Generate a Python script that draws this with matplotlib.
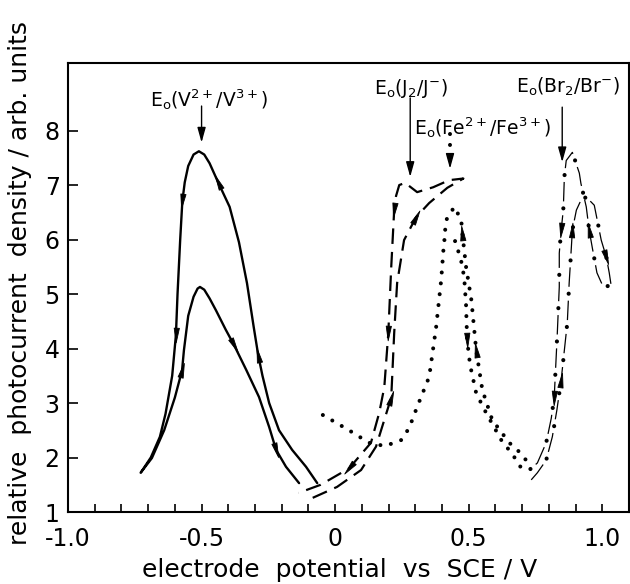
import numpy as np
import matplotlib
matplotlib.use("Agg")
import matplotlib.pyplot as plt
from matplotlib.markers import MarkerStyle
from matplotlib.path import Path

plt.rcParams['font.family'] = ['DejaVu Sans']
plt.rcParams['mathtext.fontset'] = 'dejavusans'

# ---------------- data (potential V vs SCE, relative photocurrent) ----------------
# V2+/V3+ (solid): scan order
v_x = [-0.067, -0.109, -0.161, -0.21, -0.247, -0.272, -0.288, -0.305, -0.33, -0.36, -0.395, -0.438,
       -0.47, -0.49, -0.51, -0.53, -0.55, -0.563, -0.572, -0.58, -0.59, -0.596, -0.61, -0.635,
       -0.656, -0.69, -0.728,
       -0.686, -0.64, -0.60, -0.573, -0.566, -0.55, -0.53, -0.515, -0.506, -0.49, -0.47, -0.446,
       -0.41, -0.378, -0.333, -0.285, -0.247, -0.221, -0.184, -0.135]
v_y = [1.53, 1.83, 2.14, 2.5, 3.0, 3.5, 3.88, 4.4, 5.2, 5.95, 6.6, 7.05,
       7.4, 7.56, 7.62, 7.56, 7.35, 7.05, 6.7, 6.0, 5.0, 4.25, 3.5, 2.8,
       2.38, 2.0, 1.72,
       1.99, 2.5, 3.1, 3.6, 3.97, 4.6, 4.95, 5.1, 5.13, 5.08, 4.92, 4.7,
       4.35, 4.06, 3.61, 3.11, 2.56, 2.14, 1.83, 1.53]
v_arrows = [(-0.438, 7.05), (-0.288, 3.88), (-0.572, 6.7), (-0.596, 4.25),
            (-0.573, 3.6), (-0.378, 4.06), (-0.221, 2.14)]

# J2/J- (dashed)
j_x = [-0.084, 0.007, 0.097, 0.153, 0.184, 0.21, 0.221, 0.232, 0.258, 0.303, 0.352, 0.42, 0.48,
       0.427, 0.367, 0.307, 0.262, 0.24, 0.228, 0.221, 0.21, 0.199, 0.184, 0.165, 0.134, 0.052,
       -0.054, -0.137]
j_y = [1.26, 1.46, 1.77, 2.2, 2.69, 3.1, 4.28, 5.2, 5.99, 6.41, 6.67, 6.95, 7.12,
       7.09, 6.96, 6.87, 7.04, 7.0, 6.8, 6.54, 5.5, 4.28, 3.29, 2.82, 2.27, 1.8,
       1.5, 1.35]
j_arrows = [(0.303, 6.41), (0.21, 3.1), (0.221, 6.54), (0.199, 4.28), (0.052, 1.8)]

# Fe2+/Fe3+ (dotted)
fe_x = [-0.046, 0.052, 0.127, 0.187, 0.247, 0.277, 0.307, 0.352, 0.378, 0.397, 0.408, 0.43, 0.45,
        0.472, 0.483, 0.49, 0.494, 0.505, 0.528, 0.565, 0.622, 0.665, 0.695, 0.715,
        0.69, 0.652, 0.588, 0.551, 0.528, 0.51, 0.49, 0.476, 0.472, 0.446, 0.416, 0.408]
fe_y = [2.78, 2.5, 2.27, 2.21, 2.32, 2.54, 2.93, 3.48, 4.39, 5.26, 5.99, 6.0, 5.97,
        5.6, 5.31, 4.8, 4.16, 3.7, 3.18, 2.82, 2.32, 2.05, 1.82, 1.95,
        2.1, 2.27, 2.69, 3.24, 3.97, 4.89, 5.5, 6.12, 6.36, 6.6, 6.36, 6.0]
fe_arrows = [(0.494, 4.16), (0.528, 3.97), (0.476, 6.12)]

# Br2/Br- (dash-dot)
br_x = [0.734, 0.757, 0.79, 0.813, 0.83, 0.846, 0.869, 0.876, 0.884, 0.888, 0.903, 0.92, 0.94,
        0.97, 0.996, 1.015, 1.026, 1.034, 1.0, 0.98, 0.963, 0.951, 0.94, 0.92, 0.914, 0.888,
        0.865, 0.858, 0.854, 0.846, 0.839, 0.839, 0.831, 0.82, 0.809, 0.79, 0.757, 0.715]
br_y = [1.59, 1.72, 1.95, 2.38, 2.87, 3.42, 4.47, 5.2, 5.84, 6.17, 6.54, 6.72, 6.78,
        6.63, 5.99, 5.68, 5.39, 5.13, 5.17, 5.39, 5.84, 6.17, 6.6, 7.03, 7.22, 7.6,
        7.45, 7.15, 6.54, 6.17, 5.75, 5.13, 4.21, 3.1, 2.72, 2.27, 1.9, 1.72]
br_arrows = [(0.846, 3.42), (0.888, 6.17), (1.015, 5.68), (0.951, 6.17), (0.846, 6.17), (0.82, 3.1)]

x_ticks = [-1.0, -0.9, -0.8, -0.7, -0.6, -0.5, -0.4, -0.3, -0.2, -0.1, 0.0,
           0.1, 0.2, 0.3, 0.4, 0.5, 0.6, 0.7, 0.8, 0.9, 1.0]
x_tick_labels = ['-1.0', '', '', '', '', '-0.5', '', '', '', '', '0',
                 '', '', '', '', '0.5', '', '', '', '', '1.0']
y_ticks = [1, 2, 3, 4, 5, 6, 7, 8]
y_tick_labels = ['1', '2', '3', '4', '5', '6', '7', '8']

# E0 annotations: label, text position, arrow x, arrow start y, arrow tip y
e0_labels = [r'E$_{\mathrm{o}}$(V$^{2+}$/V$^{3+}$)', r'E$_{\mathrm{o}}$(J$_2$/J$^{-}$)',
             r'E$_{\mathrm{o}}$(Fe$^{2+}$/Fe$^{3+}$)', r'E$_{\mathrm{o}}$(Br$_2$/Br$^{-}$)']
e0_text_x = [-0.472, 0.285, 0.552, 0.873]
e0_text_y = [8.56, 8.78, 8.06, 8.8]
e0_arrow_x = [-0.5, 0.281, 0.43, 0.85]
e0_arrow_y0 = [8.45, 8.6, 7.93, 8.43]
e0_arrow_y1 = [7.78, 7.15, 7.3, 7.42]

# ---------------- figure ----------------
fig = plt.figure(figsize=(6.3, 5.84), dpi=100)
ax = fig.add_axes([68 / 630, 72 / 584, 561 / 630, 449 / 584])
ax.set_xlim(-1.0, 1.1)
ax.set_ylim(1.0, 9.24)

dot_lw = 2.9
dot_style = (0, (0.01, 2.7))

ax.plot(v_x, v_y, color='k', lw=1.7, solid_joinstyle='round', solid_capstyle='round')
ax.plot(j_x, j_y, color='k', lw=1.6, linestyle=(0, (7.0, 3.6)), dash_capstyle='butt')
ax.plot(fe_x, fe_y, color='k', lw=dot_lw, linestyle=dot_style, dash_capstyle='round')
# dash-dot: thin long dashes plus bold dots in the gaps (lengths in points)
thin_lw, bold_lw = 0.9, 3.0
dash_len, gap_len = 14.0, 10.0
period = dash_len + gap_len
ax.plot(br_x, br_y, color='k', lw=thin_lw,
        linestyle=(0, (dash_len / thin_lw, gap_len / thin_lw)), dash_capstyle='butt')
ax.plot(br_x, br_y, color='k', lw=bold_lw,
        linestyle=((period - dash_len - gap_len / 2) / bold_lw, (0.01, period / bold_lw - 0.01)),
        dash_capstyle='round')

tri = Path([(0, 1.0), (-0.36, -1.0), (0.36, -1.0), (0, 1.0)],
           [Path.MOVETO, Path.LINETO, Path.LINETO, Path.CLOSEPOLY])


def add_arrows(xs, ys, pts, size=10.5):
    T = ax.transData
    P = T.transform(np.column_stack([xs, ys]))
    for (px, py) in pts:
        q = T.transform((px, py))
        best, bi = 1e9, 0
        for i in range(len(P) - 1):
            a, b = P[i], P[i + 1]
            ab = b - a
            t = np.clip(np.dot(q - a, ab) / max(np.dot(ab, ab), 1e-9), 0, 1)
            d = np.linalg.norm(a + t * ab - q)
            if d < best:
                best, bi = d, i
        v = P[bi + 1] - P[bi]
        ang = np.degrees(np.arctan2(v[1], v[0])) - 90
        m = MarkerStyle(tri).rotated(deg=ang)
        ax.plot([px], [py], marker=m, ms=size, color='k', mec='k', mew=0.6, linestyle='none')


add_arrows(v_x, v_y, v_arrows)
add_arrows(j_x, j_y, j_arrows)
add_arrows(fe_x, fe_y, fe_arrows)
add_arrows(br_x, br_y, br_arrows)

for i, lab in enumerate(e0_labels):
    ax.text(e0_text_x[i], e0_text_y[i], lab, fontsize=13.5, ha='center', va='center')
    if i == 2:
        ax.plot([e0_arrow_x[i], e0_arrow_x[i]], [e0_arrow_y0[i], e0_arrow_y1[i] + 0.2],
                color='k', lw=dot_lw, linestyle=dot_style, dash_capstyle='round')
        ax.annotate('', xy=(e0_arrow_x[i], e0_arrow_y1[i]),
                    xytext=(e0_arrow_x[i], e0_arrow_y1[i] + 0.25),
                    arrowprops=dict(arrowstyle='-|>,head_length=0.9,head_width=0.25',
                                    lw=1.0, color='k', shrinkA=0, shrinkB=0))
    else:
        ax.annotate('', xy=(e0_arrow_x[i], e0_arrow_y1[i]),
                    xytext=(e0_arrow_x[i], e0_arrow_y0[i]),
                    arrowprops=dict(arrowstyle='-|>,head_length=0.9,head_width=0.25',
                                    lw=1.0, color='k', shrinkA=0, shrinkB=0))

ax.set_xticks(x_ticks)
ax.set_xticklabels(x_tick_labels)
ax.set_yticks(y_ticks)
ax.set_yticklabels(y_tick_labels)
ax.tick_params(axis='x', direction='in', length=6, width=1.2, labelsize=17, pad=11)
ax.tick_params(axis='y', direction='in', length=7, width=1.2, labelsize=17, pad=6)
for s in ax.spines.values():
    s.set_linewidth(1.5)

ax.set_xlabel('electrode  potential  vs  SCE / V', fontsize=18)
ax.xaxis.set_label_coords(0.485, -0.13)
ax.xaxis.label.set_verticalalignment('center')
ax.set_ylabel('relative  photocurrent  density / arb. units', fontsize=18)
ax.yaxis.set_label_coords(-0.085, 0.51)
ax.yaxis.label.set_verticalalignment('center')

fig.savefig('out.png', dpi=100)
